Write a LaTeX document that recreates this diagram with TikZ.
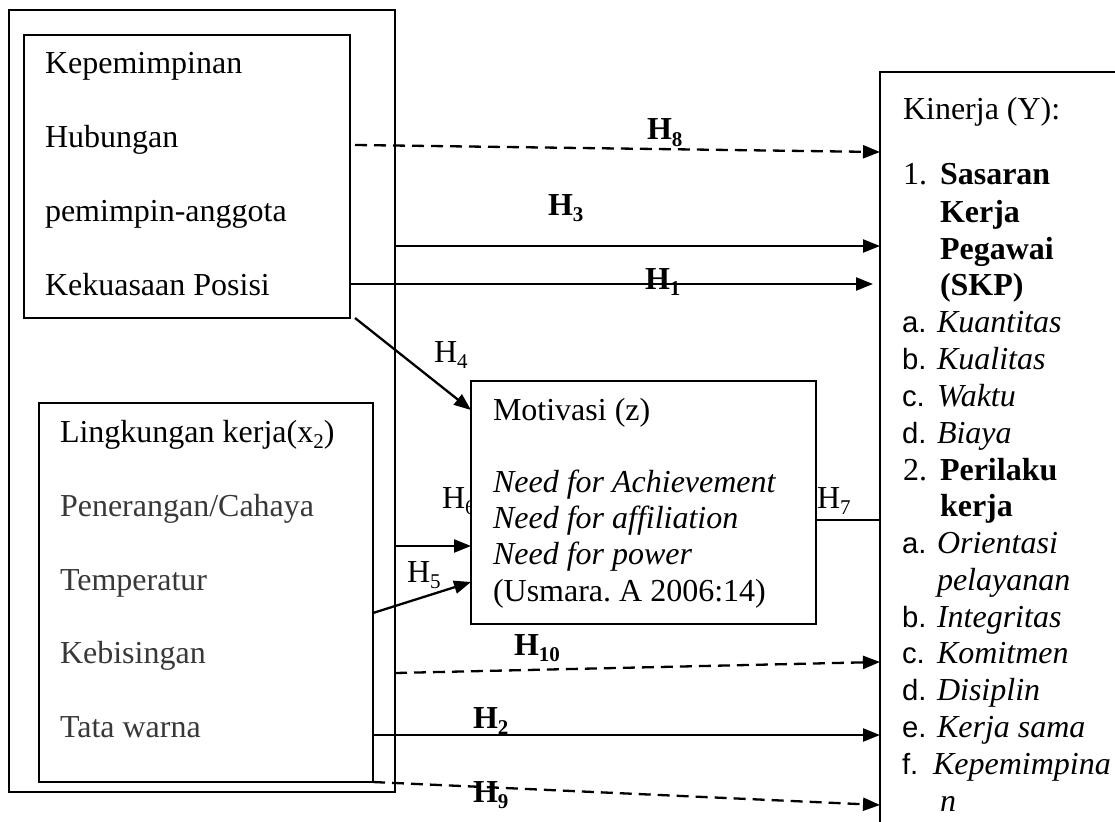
\documentclass[tikz,border=0pt]{standalone}
\usepackage{fontspec}
\setmainfont{Liberation Serif}
\newfontfamily\sansf{Liberation Sans}
\usetikzlibrary{arrows.meta}
\newcommand\hsub[1]{\raisebox{-0.2em}{\fontsize{21}{21}\selectfont #1}}
\newcommand\ltr[1]{{\sansf\fontsize{29.3}{36.8}\selectfont #1}}
\frenchspacing
\begin{document}
\begin{tikzpicture}[x=1pt,y=-1pt,
  box/.style={draw, line width=1.8pt, inner sep=0pt, outer sep=0pt, anchor=north west},
  txt/.style={anchor=base west, inner sep=0pt, outer sep=0pt},
  grey/.style={txt, text=black!78},
  arr/.style={line width=2.3pt, -{Triangle[length=17pt,width=13pt]}},
  dsh/.style={arr, dash pattern=on 12pt off 7pt},
  plain/.style={line width=1.8pt},
  font=\fontsize{32}{36.8}\selectfont]
\useasboundingbox (0,0) rectangle (1115,821);
\clip (0,0) rectangle (1115,821);

% boxes
\node[box, minimum width=386pt, minimum height=782pt] (outer) at (9,10) {};
\node[box, minimum width=326pt, minimum height=283pt] (kep) at (24,35) {};
\node[box, minimum width=334pt, minimum height=379pt] (lin) at (39,403) {};
\node[txt] (l6) at (442,508) {H\hsub{6}};
\node[box, fill=white, minimum width=345pt, minimum height=243pt] (mot) at (471,381) {};
\node[box, minimum width=260pt, minimum height=790pt] (kin) at (880,72) {};

% Kepemimpinan
\node[txt] (a1) at (45,74) {Kepemimpinan};
\node[txt] (a2) at (45,148) {Hubungan};
\node[txt] (a3) at (45,221) {pemimpin-anggota};
\node[txt] (a4) at (45,295) {Kekuasaan Posisi};

% Lingkungan
\node[txt] (b1) at (60,442) {Lingkungan kerja(x\hsub{2})};
\node[grey] (b2) at (60,516) {Penerangan/Cahaya};
\node[grey] (b3) at (60,590) {Temperatur};
\node[grey] (b4) at (60,663) {Kebisingan};
\node[grey] (b5) at (60,737) {Tata warna};

% Motivasi
\node[txt] (m1) at (493,420) {Motivasi (z)};
\node[txt] (m2) at (493,492) {\itshape Need for Achievement};
\node[txt] (m3) at (493,528) {\itshape Need for affiliation};
\node[txt] (m4) at (493,564) {\itshape Need for power};
\node[txt] (m5) at (493,601) {(Usmara. A 2006:14)};

% Kinerja
\node[txt] (k0) at (903,120) {Kinerja (Y):};
\node[txt] (k1n) at (903,185) {1.};
\node[txt] (k1) at (940,185) {\bfseries Sasaran};
\node[txt] (k2) at (940,222) {\bfseries Kerja};
\node[txt] (k3) at (940,259) {\bfseries Pegawai};
\node[txt] (k4) at (940,295) {\bfseries (SKP)};
\node[txt] (k5l) at (902,332) {\ltr{a.}};
\node[txt] (k5) at (937,332) {\itshape Kuantitas};
\node[txt] (k6l) at (902,369) {\ltr{b.}};
\node[txt] (k6) at (937,369) {\itshape Kualitas};
\node[txt] (k7l) at (902,406) {\ltr{c.}};
\node[txt] (k7) at (937,406) {\itshape Waktu};
\node[txt] (k8l) at (902,443) {\ltr{d.}};
\node[txt] (k8) at (937,443) {\itshape Biaya};
\node[txt] (k9n) at (903,480) {2.};
\node[txt] (k9) at (940,480) {\bfseries Perilaku};
\node[txt] (k10) at (940,516) {\bfseries kerja};
\node[txt] (k11l) at (902,553) {\ltr{a.}};
\node[txt] (k11) at (937,553) {\itshape Orientasi};
\node[txt] (k12) at (937,590) {\itshape pelayanan};
\node[txt] (k13l) at (902,627) {\ltr{b.}};
\node[txt] (k13) at (937,627) {\itshape Integritas};
\node[txt] (k14l) at (902,663) {\ltr{c.}};
\node[txt] (k14) at (937,663) {\itshape Komitmen};
\node[txt] (k15l) at (902,700) {\ltr{d.}};
\node[txt] (k15) at (937,700) {\itshape Disiplin};
\node[txt] (k16l) at (902,737) {\ltr{e.}};
\node[txt] (k16) at (937,737) {\itshape Kerja sama};
\node[txt] (k17l) at (902,774) {\ltr{f.}};
\node[txt] (k17) at (933,774) {\itshape Kepemimpina};
\node[txt] (k18) at (940,811) {\itshape n};

% y levels
\coordinate (s8) at (355,145);
\coordinate (e8) at (0,152);
\coordinate (y246) at (0,246);
\coordinate (y284) at (0,284);
\coordinate (y410) at (0,410);
\coordinate (y613) at (0,613);
\coordinate (y582) at (0,582);
\coordinate (y546) at (0,546);
\coordinate (y520) at (0,520);
\coordinate (y673) at (0,673);
\coordinate (y662) at (0,662);
\coordinate (y735) at (0,735);
\coordinate (y805) at (0,805);

% connectors
\draw[dsh] (s8) -- (kin.west |- e8);
\draw[arr] (outer.east |- y246) -- (kin.west |- y246);
\draw[arr, shorten >=7pt] (kep.east |- y284) -- (kin.west |- y284);
\draw[arr] ([xshift=5pt]kep.south east) -- (mot.west |- y410);
\draw[arr] (lin.east |- y613) -- (mot.west |- y582);
\draw[arr] (outer.east |- y546) -- (mot.west |- y546);
\draw[plain] (mot.east |- y520) -- (kin.west |- y520);
\draw[dsh] (outer.east |- y673) -- (kin.west |- y662);
\draw[arr] (lin.east |- y735) -- (kin.west |- y735);
\draw[dsh] (lin.south east) -- (kin.west |- y805);

% labels
\node[txt] (l8) at (647,140) {\bfseries H\hsub{8}};
\node[txt] (l3) at (548,215) {\bfseries H\hsub{3}};
\node[txt] (l1) at (645,289) {\bfseries H\hsub{1}};
\node[txt] (l4) at (434,362) {H\hsub{4}};
\node[txt] (l5) at (407,582) {H\hsub{5}};
\node[txt] (l7) at (817,508) {H\hsub{7}};
\node[txt] (l10) at (514,655) {\bfseries H\hsub{10}};
\node[txt] (l2) at (473,728) {\bfseries H\hsub{2}};
\node[txt] (l9) at (473,802) {\bfseries H\hsub{9}};
\end{tikzpicture}
\end{document}
